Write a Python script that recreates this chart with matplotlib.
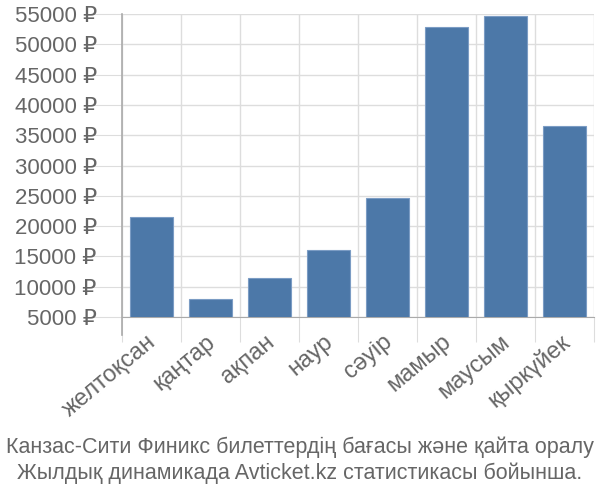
import matplotlib.pyplot as plt
import matplotlib.transforms as mtransforms
import numpy as np

plt.rcParams['font.family'] = ['Liberation Sans', 'DejaVu Sans']

# Data
months = ["желтоқсан", "қаңтар", "ақпан", "наур", "сәуір", "мамыр", "маусым", "қыркүйек"]
prices = [21500, 7900, 11400, 16050, 24600, 52850, 54650, 36500]
yticks = [5000, 10000, 15000, 20000, 25000, 30000, 35000, 40000, 45000, 50000, 55000]

grey = "#666666"
grid = "#dddddd"

fig = plt.figure(figsize=(6, 5), dpi=100)
ax = fig.add_axes([0.203, 0.366, 0.787, 0.606])

x = np.arange(len(months))
ax.bar(x, prices, width=0.72, bottom=0, color="#4c78a8", edgecolor="#7b9cc4",
       linewidth=0.8, zorder=3)

ax.set_xlim(-0.5, len(months) - 0.5)
ax.set_ylim(5000, 55000)

# y axis
ax.set_yticks(yticks)
ax.set_yticklabels([f"{v} ₽" for v in yticks])
ax.tick_params(axis="y", length=22, color=grid, labelcolor=grey, labelsize=16, pad=-4)

# x axis: ticks on category boundaries, labels at centres
ax.set_xticks(np.arange(len(months) + 1) - 0.5)
ax.set_xticklabels([])
ax.set_xticks(x, minor=True)
ax.set_xticklabels(months, minor=True, rotation=40, ha="right", rotation_mode="anchor")
ax.tick_params(axis="x", which="major", length=18, color=grid)
ax.tick_params(axis="x", which="minor", length=0, labelcolor=grey, labelsize=17, pad=10)
shift = mtransforms.ScaledTranslation(-5 / 100, 0, fig.dpi_scale_trans)
for lbl in ax.get_xticklabels(minor=True):
    lbl.set_transform(lbl.get_transform() + shift)

ax.grid(True, which="major", color=grid, linewidth=1, zorder=0)

for s in ["top", "right"]:
    ax.spines[s].set_visible(False)
ax.spines["left"].set_visible(False)
ax.spines["bottom"].set_color("#aaaaaa")
ax.axvline(-0.5, ymin=-0.06, ymax=1, color="#aaaaaa", linewidth=1.2, clip_on=False, zorder=4)

fig.text(0.5, 0.079, "Канзас-Сити Финикс билеттердің бағасы және қайта оралу\n"
         "Жылдық динамикада Avticket.kz статистикасы бойынша.",
         ha="center", va="center", color=grey, fontsize=15.5, linespacing=1.25)

plt.savefig("out.png")
